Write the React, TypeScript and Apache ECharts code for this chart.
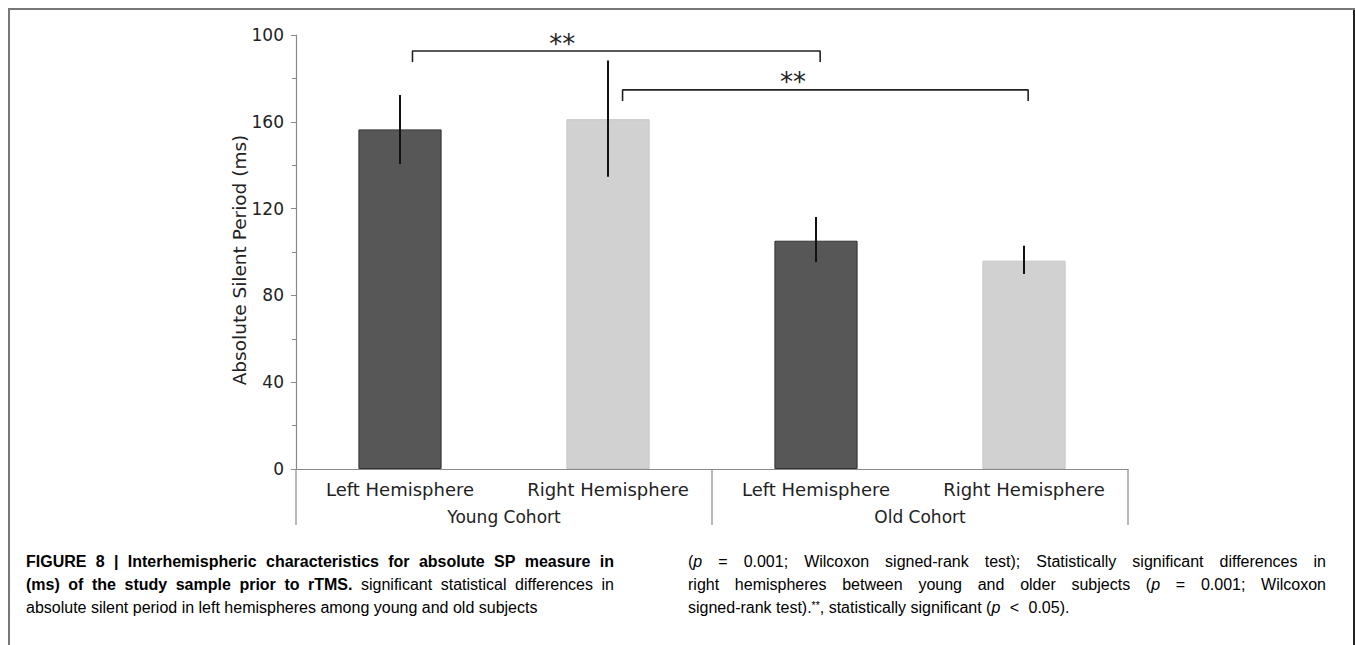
import React, { useEffect, useRef } from "react";
import * as echarts from "echarts";

const categories = ["Left Hemisphere", "Right Hemisphere", "Left Hemisphere", "Right Hemisphere"];
const means = [156.5, 161.2, 105.2, 96.0];
const errLow = [140.6, 134.7, 95.4, 89.9];
const errHigh = [172.4, 188.3, 116.1, 102.9];
const barColors = ["#575757", "#d1d1d1", "#575757", "#d1d1d1"];
const barBorders = ["#333333", "#c6c6c6", "#333333", "#c6c6c6"];
const yTickLabels = ["0", "40", "80", "120", "160", "100"];

const cohortNames = ["Young Cohort", "Old Cohort"];
const cohortCenters = [0.5, 2.5];
const cohortDividers = [-0.5, 1.5, 3.5];

const bracketFrom = [0.06, 1.07];
const bracketTo = [2.02, 3.02];
const bracketLevel = [192.6, 174.7];
const bracketFoot = [187.6, 169.6];
const starX = [0.78, 1.89];
const starY = [196.0, 178.5];
const starText = "**";

const captionLeft = [
  "{b|FIGURE 8 | Interhemispheric characteristics for absolute SP measure in}",
  "{b|(ms) of the study sample prior to rTMS.}{r| significant statistical differences in}",
  "{r|absolute silent period in left hemispheres among young and old subjects}",
];
const captionRight = [
  "{r|(}{i|p}{r| = 0.001; Wilcoxon signed-rank test); Statistically significant differences in}",
  "{r|right hemispheres between young and older subjects (}{i|p}{r| = 0.001; Wilcoxon}",
  "{r|signed-rank test).}{s|**}{r|, statistically significant (}{i|p}{r| < 0.05).}",
];

const FONT = "DejaVu Sans";
const CAP = "Liberation Sans";
const CAP_SIZE = 16;

const capStyles: any = {
  b: { fontFamily: CAP, fontSize: CAP_SIZE, fontWeight: "bold", color: "#1a1a1a" },
  r: { fontFamily: CAP, fontSize: CAP_SIZE, color: "#333" },
  i: { fontFamily: CAP, fontSize: CAP_SIZE, fontStyle: "italic", color: "#333" },
  s: { fontFamily: CAP, fontSize: 10.5, color: "#333", verticalAlign: "top" },
};

type Seg = { s: string; t: string };

function parseWords(line: string): Seg[][] {
  const re = /\{(\w)\|([^}]*)\}/g;
  const words: Seg[][] = [];
  let cur: Seg[] = [];
  let m: RegExpExecArray | null;
  while ((m = re.exec(line))) {
    const s = m[1];
    const txt = m[2];
    let buf = "";
    for (const ch of txt) {
      if (ch === " ") {
        if (buf) cur.push({ s, t: buf });
        buf = "";
        if (cur.length) words.push(cur);
        cur = [];
      } else buf += ch;
    }
    if (buf) cur.push({ s, t: buf });
  }
  if (cur.length) words.push(cur);
  return words;
}

function fontOf(s: string) {
  const st = capStyles[s];
  return `${st.fontStyle || "normal"} ${st.fontWeight || "normal"} ${st.fontSize}px "${CAP}"`;
}

function layoutCaption(lines: string[], x0: number, width: number, y0: number, dy: number) {
  const ctx = document.createElement("canvas").getContext("2d")!;
  const measure = (s: string, t: string) => {
    ctx.font = fontOf(s);
    return ctx.measureText(t).width;
  };
  const out: any[] = [];
  lines.forEach((line, li) => {
    const words = parseWords(line);
    const widths = words.map((w) => w.reduce((a, g) => a + measure(g.s, g.t), 0));
    const total = widths.reduce((a, b) => a + b, 0);
    const last = li === lines.length - 1;
    const space = measure("r", " ");
    const gap = last ? space : (width - total) / (words.length - 1);
    let x = x0;
    words.forEach((w, wi) => {
      const isOp = w.length === 1 && (w[0].t === "=" || w[0].t === "<");
      if (last && isOp) x += 5;
      out.push({
        type: "text",
        x,
        y: y0 + li * dy,
        style: {
          text: w.map((g) => `{${g.s}|${g.t}}`).join(""),
          rich: capStyles,
          fontFamily: CAP,
          fontSize: CAP_SIZE,
          verticalAlign: "middle",
        },
      });
      x += widths[wi] + gap;
      if (last && isOp) x += 5;
    });
  });
  return out;
}

export default function App() {
  const ref = useRef<HTMLDivElement>(null);
  useEffect(() => {
    document.body.style.margin = "0";
    const chart = echarts.init(ref.current!, null, { renderer: "svg" });

    const bracketSeries = bracketFrom.map((f, i) => ({
      type: "line",
      xAxisIndex: 1,
      yAxisIndex: 0,
      symbol: "none",
      silent: true,
      z: 5,
      lineStyle: { color: "#222", width: 1.6 },
      data: [
        [f, bracketFoot[i]],
        [f, bracketLevel[i]],
        [bracketTo[i], bracketLevel[i]],
        [bracketTo[i], bracketFoot[i]],
      ],
    }));

    const option: any = {
      animation: false,
      grid: { left: 296, right: 227, top: 35, bottom: 176 },
      xAxis: [
        {
          type: "category",
          data: categories,
          axisTick: { show: false },
          axisLine: { lineStyle: { color: "#8a8a8a", width: 1.2 } },
          axisLabel: { fontFamily: FONT, fontSize: 18, color: "#222", margin: 11, interval: 0 },
        },
        { type: "value", min: -0.5, max: 3.5, show: false },
      ],
      yAxis: {
        type: "value",
        min: 0,
        max: 200,
        interval: 40,
        name: "Absolute Silent Period (ms)",
        nameLocation: "middle",
        nameGap: 47,
        nameMoveOverlap: false,
        nameTextStyle: { fontFamily: FONT, fontSize: 18.5, color: "#222", padding: [0, 16, 0, 0] },
        axisLine: { show: true, onZero: false, lineStyle: { color: "#8a8a8a", width: 1.2 } },
        axisTick: { show: true, length: 5, lineStyle: { color: "#8a8a8a" } },
        minorTick: { show: true, splitNumber: 2, length: 4, lineStyle: { color: "#8a8a8a" } },
        splitLine: { show: false },
        axisLabel: {
          fontFamily: FONT,
          fontSize: 17,
          color: "#222",
          margin: 12,
          formatter: (v: number) => yTickLabels[Math.round(v / 40)],
        },
      },
      series: [
        {
          type: "bar",
          barWidth: "40%",
          data: means.map((v, i) => ({
            value: v,
            itemStyle: { color: barColors[i], borderColor: barBorders[i], borderWidth: 1 },
          })),
        },
        {
          type: "custom",
          z: 6,
          silent: true,
          data: categories.map((_, i) => [i, errLow[i], errHigh[i]]),
          renderItem: (params: any, api: any) => {
            const p1 = api.coord([api.value(0), api.value(1)]);
            const p2 = api.coord([api.value(0), api.value(2)]);
            return {
              type: "line",
              shape: { x1: p1[0], y1: p1[1], x2: p2[0], y2: p2[1] },
              style: { stroke: "#111", lineWidth: 2 },
            };
          },
        },
        ...bracketSeries,
        {
          type: "custom",
          xAxisIndex: 1,
          silent: true,
          z: 6,
          data: starX.map((x, i) => [x, starY[i]]),
          renderItem: (params: any, api: any) => {
            const p = api.coord([api.value(0), api.value(1)]);
            return {
              type: "text",
              x: p[0],
              y: p[1],
              style: {
                text: starText,
                fontFamily: FONT,
                fontSize: 26,
                fill: "#222",
                align: "center",
                verticalAlign: "middle",
              },
            };
          },
        },
        {
          type: "custom",
          xAxisIndex: 1,
          silent: true,
          clip: false,
          data: cohortDividers.map((x) => [x, 0]),
          renderItem: (params: any, api: any) => {
            const p = api.coord([api.value(0), 0]);
            return {
              type: "line",
              shape: { x1: p[0], y1: p[1], x2: p[0], y2: p[1] + 56 },
              style: { stroke: "#8a8a8a", lineWidth: 1.2 },
            };
          },
        },
        {
          type: "custom",
          xAxisIndex: 1,
          silent: true,
          clip: false,
          data: cohortCenters.map((x, i) => [x, 0, i]),
          renderItem: (params: any, api: any) => {
            const p = api.coord([api.value(0), 0]);
            return {
              type: "text",
              x: p[0],
              y: p[1] + 48,
              style: {
                text: cohortNames[params.dataIndex],
                fontFamily: FONT,
                fontSize: 17,
                fill: "#222",
                align: "center",
                verticalAlign: "middle",
              },
            };
          },
        },
      ],
      graphic: [
        { type: "line", shape: { x1: 8, y1: 9, x2: 1355, y2: 9 }, style: { stroke: "#777", lineWidth: 2 } },
        { type: "line", shape: { x1: 9, y1: 9, x2: 9, y2: 645 }, style: { stroke: "#777", lineWidth: 2 } },
        { type: "line", shape: { x1: 1354, y1: 10, x2: 1354, y2: 645 }, style: { stroke: "#222", lineWidth: 2 } },
        ...layoutCaption(captionLeft, 26, 588, 561, 23),
        ...layoutCaption(captionRight, 688, 638, 561, 23),
      ],
    };
    chart.setOption(option);
    return () => chart.dispose();
  }, []);
  return <div ref={ref} style={{ width: 1355, height: 645 }} />;
}
